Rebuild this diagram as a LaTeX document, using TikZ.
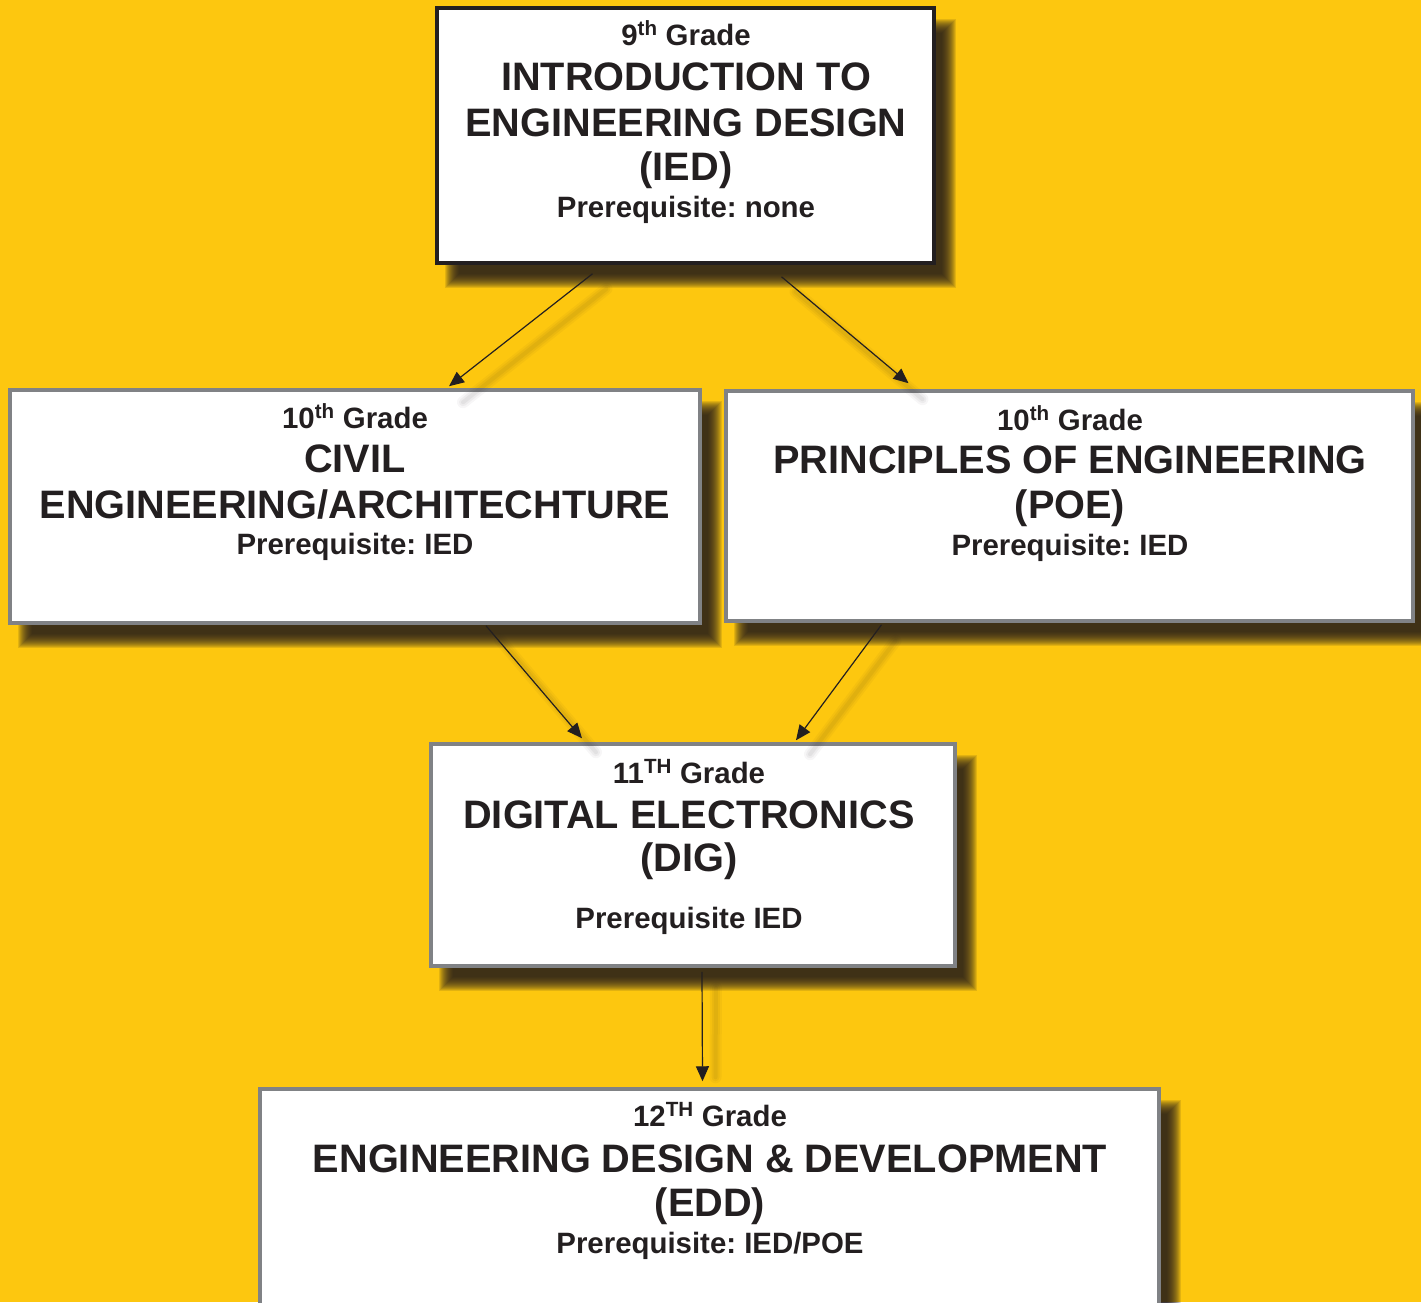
\documentclass[tikz,border=0pt]{standalone}
\usepackage{fontspec}
\setmainfont{Liberation Sans}
\usetikzlibrary{arrows.meta}
\definecolor{bgyellow}{RGB}{253,199,15}
\definecolor{ink}{RGB}{35,31,32}
\definecolor{bordergray}{RGB}{128,130,133}
\definecolor{shadowcol}{RGB}{35,28,30}
\newcommand\mybigfont{\fontsize{39.7}{46}\selectfont\bfseries\frenchspacing}
\newcommand\mysmallfont{\fontsize{29.4}{34}\selectfont\bfseries\frenchspacing}
\newcommand\boxshadow[4]{%
  \foreach \i in {-7,...,7}{%
    \fill[shadowcol,opacity=0.12] (#1+15-\i,#2+18-\i) rectangle (#3+15+\i,#4+18+\i);}}
\tikzset{
  coursebox/.style={draw=bordergray, line width=3.5pt, fill=white, inner sep=0pt},
  topbox/.style={coursebox, draw=ink},
  gradetxt/.style={anchor=base, text=ink, inner sep=0pt, font=\mysmallfont},
  titletxt/.style={anchor=base, text=ink, inner sep=0pt, font=\mybigfont},
  prereqtxt/.style={anchor=base, text=ink, inner sep=0pt, font=\mysmallfont},
  arr/.style={draw=ink, line width=1.2pt, -{Triangle[length=15pt,width=13pt]}},
  arrshadow/.style={draw=shadowcol, line cap=round}
}
\begin{document}
\begin{tikzpicture}[x=1pt,y=-1pt]
\useasboundingbox (0,0) rectangle (1421,1302);
\clip (0,0) rectangle (1421,1302);
\fill[bgyellow] (0,0) rectangle (1421,1302);

% shadows
\boxshadow{437}{8}{934}{263}
\boxshadow{10}{390}{700}{623}
\boxshadow{726}{391}{1413}{621}
\boxshadow{431}{744}{955}{966}
\boxshadow{260}{1089}{1159}{1360}

% boxes
\node[topbox, minimum width=497pt, minimum height=255pt] (ied) at (685.5,135.5) {};
\node[coursebox, minimum width=690pt, minimum height=233pt] (cea) at (355,506.5) {};
\node[coursebox, minimum width=687pt, minimum height=230pt] (poe) at (1069.5,506) {};
\node[coursebox, minimum width=524pt, minimum height=222pt] (dig) at (693,855) {};
\node[coursebox, minimum width=899pt, minimum height=271pt] (edd) at (709.5,1224.5) {};

% arrow shadows
\foreach \w/\o in {12/0.035,8/0.045,4/0.05}{
  \draw[arrshadow, line width=\w pt, opacity=\o] ([shift={(-79,24)}]ied.south) -- ([shift={(108,14)}]cea.north);
  \draw[arrshadow, line width=\w pt, opacity=\o] ([shift={(110,27)}]ied.south) -- ([shift={(-147,10)}]poe.north);
  \draw[arrshadow, line width=\w pt, opacity=\o] ([shift={(145,15)}]cea.south) -- ([shift={(-97,10)}]dig.north);
  \draw[arrshadow, line width=\w pt, opacity=\o] ([shift={(-174,18)}]poe.south) -- ([shift={(117,12)}]dig.north);
  \draw[arrshadow, line width=\w pt, opacity=\o] ([shift={(23,20)}]dig.south) -- ([shift={(6,-10)}]edd.north);
}

% arrows
\draw[arr] ([shift={(-93,9)}]ied.south) -- ([shift={(94,-2)}]cea.north);
\draw[arr] ([shift={(96,12)}]ied.south) -- ([shift={(-161,-6)}]poe.north);
\draw[arr] ([shift={(131,1)}]cea.south) -- ([shift={(-111,-4)}]dig.north);
\draw[arr] ([shift={(-188,2)}]poe.south) -- ([shift={(103,-2)}]dig.north);
\draw[arr] ([shift={(9,4)}]dig.south) -- ([shift={(-7,-6)}]edd.north);

% IED text
\node[gradetxt] (ied-g) at (686,45) {9\textsuperscript{th} Grade};
\node[titletxt] (ied-t1) at (686,90) {INTRODUCTION TO};
\node[titletxt] (ied-t2) at (686,136) {ENGINEERING DESIGN};
\node[titletxt] (ied-t3) at (686,180) {(IED)};
\node[prereqtxt] (ied-p) at (686,217) {Prerequisite: none};

% CEA text
\node[gradetxt] (cea-g) at (355,428) {10\textsuperscript{th} Grade};
\node[titletxt] (cea-t1) at (355,472) {CIVIL};
\node[titletxt] (cea-t2) at (355,518) {ENGINEERING/ARCHITECHTURE};
\node[prereqtxt] (cea-p) at (355,554) {Prerequisite: IED};

% POE text
\node[gradetxt] (poe-g) at (1070,430) {10\textsuperscript{th} Grade};
\node[titletxt] (poe-t1) at (1070,473) {PRINCIPLES OF ENGINEERING};
\node[titletxt] (poe-t2) at (1070,518) {(POE)};
\node[prereqtxt] (poe-p) at (1070,555) {Prerequisite: IED};

% DIG text
\node[gradetxt] (dig-g) at (689,783) {11\textsuperscript{TH} Grade};
\node[titletxt] (dig-t1) at (689,828) {DIGITAL ELECTRONICS};
\node[titletxt] (dig-t2) at (689,871) {(DIG)};
\node[prereqtxt] (dig-p) at (689,928) {Prerequisite IED};

% EDD text
\node[gradetxt] (edd-g) at (710,1126) {12\textsuperscript{TH} Grade};
\node[titletxt] (edd-t1) at (710,1172) {ENGINEERING DESIGN \& DEVELOPMENT};
\node[titletxt] (edd-t2) at (710,1216) {(EDD)};
\node[prereqtxt] (edd-p) at (710,1253) {Prerequisite: IED/POE};
\end{tikzpicture}
\end{document}
